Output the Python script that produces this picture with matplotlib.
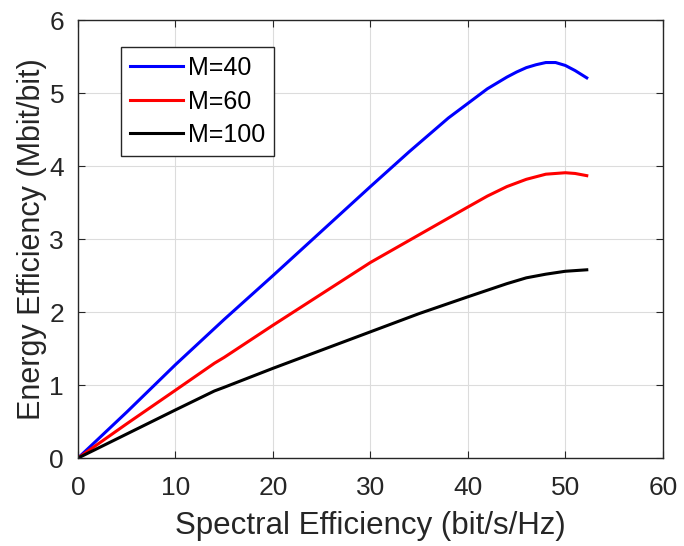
import numpy as np
import matplotlib
matplotlib.use('Agg')
import matplotlib.pyplot as plt

plt.rcParams['font.family'] = ['Liberation Sans', 'DejaVu Sans']

# values
x_m40 = [0, 5, 10, 15, 20, 25, 30, 34, 38, 40, 42, 44, 45, 46, 47, 48, 49, 50, 51, 52.2]
y_m40 = [0, 0.63, 1.28, 1.9, 2.5, 3.11, 3.72, 4.2, 4.66, 4.86, 5.06, 5.22, 5.29, 5.35, 5.39, 5.42, 5.42, 5.38, 5.31, 5.21]

x_m60 = [0, 5, 10, 14, 15, 20, 25, 30, 35, 40, 42, 44, 46, 48, 50, 51, 52.2]
y_m60 = [0, 0.47, 0.93, 1.30, 1.38, 1.82, 2.25, 2.68, 3.06, 3.44, 3.59, 3.72, 3.82, 3.89, 3.91, 3.90, 3.87]

x_m100 = [0, 5, 10, 14, 15, 20, 25, 30, 35, 40, 44, 46, 48, 50, 52.2]
y_m100 = [0, 0.33, 0.66, 0.92, 0.97, 1.23, 1.48, 1.73, 1.98, 2.21, 2.39, 2.47, 2.52, 2.56, 2.58]

labels = ['M=40', 'M=60', 'M=100']
colors = ['#0000ff', '#ff0000', '#000000']

fig = plt.figure(figsize=(6.84, 5.46), dpi=100)
ax = fig.add_axes([0.114, 0.161, 0.855, 0.802])

series = [(x_m40, y_m40), (x_m60, y_m60), (x_m100, y_m100)]
for (xs, ys), lab, c in zip(series, labels, colors):
    ax.plot(xs, ys, color=c, lw=2.2, label=lab)

ax.set_xlim(0, 60)
ax.set_ylim(0, 6)
ax.set_xticks(np.arange(0, 61, 10))
ax.set_yticks(np.arange(0, 7, 1))
ax.grid(True, color='#dcdcdc', lw=0.8)
ax.set_axisbelow(True)

dark = '#262626'
for s in ax.spines.values():
    s.set_color(dark)
    s.set_linewidth(1.0)
ax.tick_params(direction='in', top=True, right=True, length=5, width=0.8,
               colors=dark, labelsize=19)
ax.tick_params(axis='x', pad=13)
ax.tick_params(axis='y', pad=10)

ax.set_xlabel('Spectral Efficiency (bit/s/Hz)', fontsize=22.5, color=dark, labelpad=8)
ax.set_ylabel('Energy Efficiency (Mbit/bit)', fontsize=22, color=dark, labelpad=2)

leg = ax.legend(loc='upper left', bbox_to_anchor=(0.0735, 0.938), borderaxespad=0,
                fontsize=18, fancybox=False, framealpha=1, edgecolor=dark,
                handlelength=2.15, handletextpad=0.2, labelspacing=0.38, borderpad=0.35)
leg.get_frame().set_linewidth(1.0)

fig.savefig('out.png', dpi=100)
